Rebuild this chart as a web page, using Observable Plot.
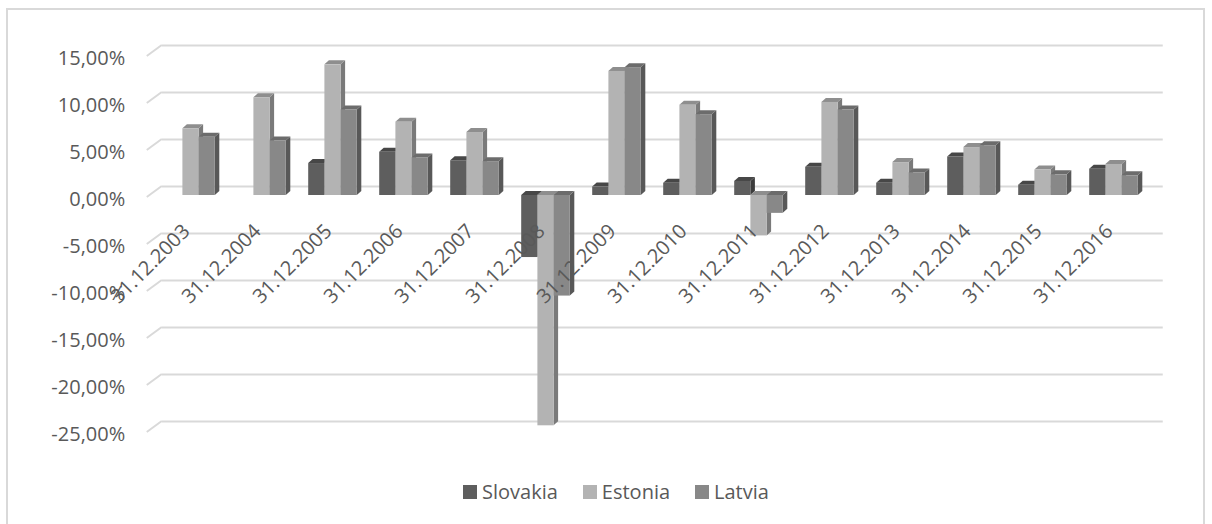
<!DOCTYPE html>
<html>
<head>
<meta charset="utf-8">
<script src="https://cdn.jsdelivr.net/npm/d3@7"></script>
<script src="https://cdn.jsdelivr.net/npm/@observablehq/plot@0.6"></script>
<style>
  html, body { margin: 0; padding: 0; background: #fff; overflow: hidden; }
  body { width: 1212px; height: 524px; position: relative; font-family: "Open Sans", sans-serif; }
  #frame { position: absolute; left: 6px; top: 8px; width: 1199px; height: 540px; border: 2px solid #d9d9d9; box-sizing: border-box; }
  #chart { position: absolute; left: 0; top: 0; }
  #legend { position: absolute; left: 463px; top: 478px; display: flex; align-items: center; font-size: 20px; color: #595959; white-space: nowrap; }
  #legend .item { display: flex; align-items: center; margin-right: 25px; }
  #legend .sw { width: 14px; height: 14px; margin-right: 5px; }
</style>
</head>
<body>
<div id="frame"></div>
<div id="chart"></div>
<div id="legend"></div>
<script>
// Year-end dates (categories)
const dates = ["31.12.2003", "31.12.2004", "31.12.2005", "31.12.2006", "31.12.2007",
  "31.12.2008", "31.12.2009", "31.12.2010", "31.12.2011", "31.12.2012",
  "31.12.2013", "31.12.2014", "31.12.2015", "31.12.2016"];

// Values in percent
const slovakia = [null, null, 3.4, 4.6, 3.7, -6.6, 0.9, 1.3, 1.5, 3.0, 1.3, 4.1, 1.1, 2.8];
const estonia = [7.1, 10.4, 13.9, 7.8, 6.7, -24.5, 13.2, 9.6, -4.3, 9.9, 3.5, 5.1, 2.7, 3.3];
const latvia = [6.2, 5.8, 9.1, 4.0, 3.6, -10.7, 13.6, 8.6, -1.9, 9.1, 2.4, 5.3, 2.2, 2.1];

const seriesNames = ["Slovakia", "Estonia", "Latvia"];
const seriesValues = [slovakia, estonia, latvia];
const yTicks = [15, 10, 5, 0, -5, -10, -15, -20, -25];

// Face shades per series: front, top, side
const shades = {
  Slovakia: {front: "#5e5e5e", top: "#474747", side: "#3c3c3c"},
  Estonia: {front: "#b3b3b3", top: "#8e8e8e", side: "#7a7a7a"},
  Latvia: {front: "#888888", top: "#6c6c6c", side: "#585858"}
};

// Long-format table built from the arrays
const rows = [];
dates.forEach((d, i) => {
  seriesNames.forEach((s, j) => {
    const v = seriesValues[j][i];
    if (v != null) rows.push({date: d, series: s, k: j, value: v});
  });
});

const fmt = (v) => v.toFixed(2).replace(".", ",") + "%";

// Depth of the 3D extrusion in pixels
const DEPTH_X = 4.5, DEPTH_Y = -4;
const BAR_W = 16.2;

// Floor stubs joining the front edge to the back wall grid
function floorStubs(index, scales) {
  const y = scales.y;
  const x0 = scales.x.range()[0];
  const g = d3.create("svg:g");
  for (const v of yTicks) {
    g.append("line")
      .attr("x1", x0 - 5).attr("y1", y(v) + 2)
      .attr("x2", x0 + 10).attr("y2", y(v) - 9)
      .attr("stroke", "#d9d9d9").attr("stroke-width", 2);
  }
  return g.node();
}

// Extruded columns: front face, side face and top face from the x/y scales
function columns3d(index, scales) {
  const x = scales.x, y = scales.y;
  const bw = typeof x.bandwidth === "function" ? x.bandwidth() : x.bandwidth;
  const g = d3.create("svg:g");
  for (const r of rows) {
    const c = x(r.date) + bw / 2;
    const xl = c - 1.5 * BAR_W + r.k * BAR_W;
    const xr = xl + BAR_W;
    const yTop = y(Math.max(0, r.value));
    const yBot = y(Math.min(0, r.value));
    const sh = shades[r.series];
    // side face
    g.append("path")
      .attr("d", `M${xr},${yTop}L${xr + DEPTH_X},${yTop + DEPTH_Y}L${xr + DEPTH_X},${yBot + DEPTH_Y}L${xr},${yBot}Z`)
      .attr("fill", sh.side);
    // top face
    g.append("path")
      .attr("d", `M${xl},${yTop}L${xl + DEPTH_X},${yTop + DEPTH_Y}L${xr + DEPTH_X},${yTop + DEPTH_Y}L${xr},${yTop}Z`)
      .attr("fill", sh.top);
    // front face
    g.append("rect")
      .attr("x", xl).attr("y", yTop)
      .attr("width", BAR_W).attr("height", Math.max(0.5, yBot - yTop))
      .attr("fill", sh.front);
  }
  return g.node();
}

const chart = Plot.plot({
  width: 1212,
  height: 470,
  marginLeft: 151.75,
  marginRight: 59.25,
  marginTop: 0,
  marginBottom: 0,
  style: {fontFamily: "'Open Sans', sans-serif", fontSize: "20px", color: "#595959", background: "transparent", overflow: "visible"},
  x: {type: "band", domain: dates, range: [151.75, 1152.75], padding: 0, axis: null},
  y: {domain: [-25, 15], range: [430, 54], axis: null},
  marks: [
    // back wall gridlines
    Plot.ruleY(yTicks, {stroke: "#d9d9d9", strokeWidth: 2, dx: 10, dy: -9}),
    floorStubs,
    // y tick labels
    Plot.text(yTicks, {y: d => d, text: fmt, frameAnchor: "left", textAnchor: "end", dx: -27, dy: 4, fill: "#595959", fontSize: 20}),
    columns3d,
    // category labels along the zero line
    Plot.text(dates, {x: d => d, y: () => 0, text: d => d, rotate: -45, textAnchor: "end", lineAnchor: "bottom", dy: 37, fill: "#595959", fontSize: 20})
  ]
});
document.getElementById("chart").appendChild(chart);

// Legend
const legend = d3.select("#legend");
seriesNames.forEach((s) => {
  const item = legend.append("div").attr("class", "item");
  item.append("div").attr("class", "sw").style("background", shades[s].front);
  item.append("span").text(s);
});
</script>
</body>
</html>
